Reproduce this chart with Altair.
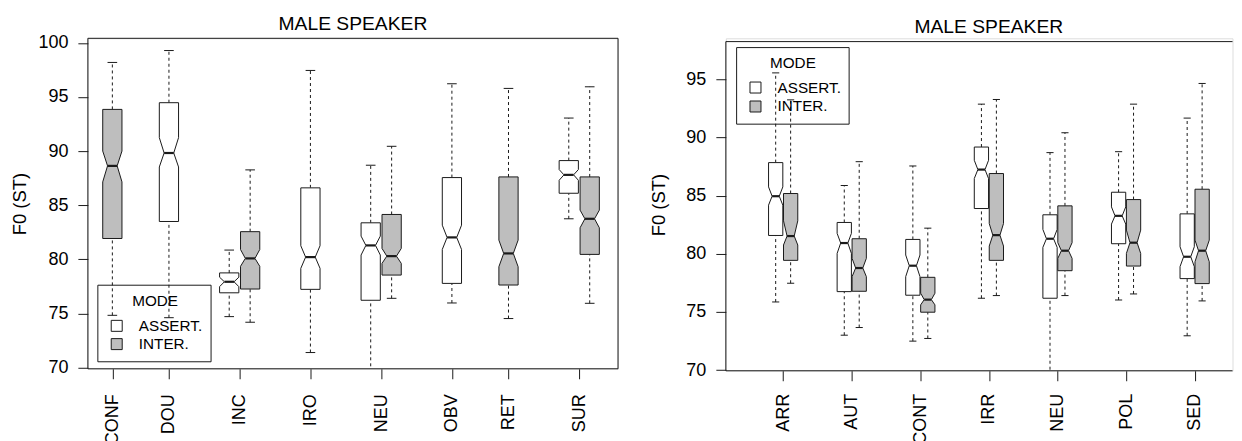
import json
import altair as alt
import pandas as pd

FONT = "Liberation Sans"
INK = "#1a1a1a"

MODES = ["ASSERT.", "INTER."]
FILLS = ["white", "#BEBEBE"]
TITLE = "MALE SPEAKER"
Y_TITLE = "F0 (ST)"

# ---------------- left panel data ----------------
LEFT_CATS = ["CONF", "DOU", "INC", "IRO", "NEU", "OBV", "RET", "SUR"]
LEFT_BOX_CAT = ["CONF", "DOU", "INC", "INC", "IRO", "NEU", "NEU", "OBV", "RET", "SUR", "SUR"]
LEFT_BOX_MODE = ["INTER.", "ASSERT.", "ASSERT.", "INTER.", "ASSERT.", "ASSERT.", "INTER.",
                 "ASSERT.", "INTER.", "ASSERT.", "INTER."]
LEFT_LOW = [74.82, 74.60, 74.70, 74.18, 71.38, 69.00, 76.39, 75.96, 74.52, 83.74, 75.93]
LEFT_Q1 = [81.92, 83.49, 76.90, 77.25, 77.22, 76.21, 78.54, 77.77, 77.62, 86.10, 80.45]
LEFT_NOTCH_LO = [87.15, 88.53, 77.47, 79.35, 79.16, 80.39, 79.62, 80.91, 79.31, 87.30, 82.91]
LEFT_MED = [88.63, 89.82, 77.92, 80.08, 80.20, 81.28, 80.29, 82.02, 80.54, 87.80, 83.74]
LEFT_NOTCH_HI = [90.00, 91.24, 78.34, 80.90, 81.25, 82.14, 81.00, 83.15, 81.77, 88.29, 84.54]
LEFT_Q3 = [93.85, 94.47, 78.74, 82.55, 86.60, 83.37, 84.14, 87.55, 87.61, 89.12, 87.61]
LEFT_HIGH = [98.19, 99.29, 80.85, 88.26, 97.45, 88.69, 90.44, 96.22, 95.79, 93.05, 95.94]
LEFT_YTICKS = [70, 75, 80, 85, 90, 95, 100]

# ---------------- right panel data ----------------
RIGHT_CATS = ["ARR", "AUT", "CONT", "IRR", "NEU", "POL", "SED"]
RIGHT_BOX_CAT = ["ARR", "ARR", "AUT", "AUT", "CONT", "CONT", "IRR", "IRR",
                 "NEU", "NEU", "POL", "POL", "SED", "SED"]
RIGHT_BOX_MODE = ["ASSERT.", "INTER."] * 7
RIGHT_LOW = [75.86, 77.47, 73.00, 73.66, 72.49, 72.72, 76.18, 76.41, 69.00, 76.41, 76.03, 76.55, 72.95, 75.95]
RIGHT_Q1 = [81.58, 79.44, 76.75, 76.78, 76.44, 74.98, 83.90, 79.44, 76.18, 78.55, 80.87, 78.95, 77.87, 77.44]
RIGHT_NOTCH_LO = [84.19, 80.76, 80.04, 78.04, 78.04, 75.61, 86.48, 80.67, 80.56, 79.61, 82.56, 80.04, 78.90, 79.32]
RIGHT_MED = [84.96, 81.53, 80.93, 78.78, 78.98, 76.06, 87.25, 81.61, 81.30, 80.27, 83.27, 80.96, 79.75, 80.27]
RIGHT_NOTCH_HI = [85.76, 82.84, 81.76, 79.61, 79.90, 76.61, 88.05, 82.61, 82.10, 80.96, 84.04, 82.04, 80.61, 81.18]
RIGHT_Q3 = [87.85, 85.19, 82.70, 81.30, 81.24, 77.98, 89.19, 86.91, 83.36, 84.13, 85.30, 84.67, 83.44, 85.56]
RIGHT_HIGH = [95.57, 93.25, 85.88, 87.93, 87.56, 82.21, 92.88, 93.28, 88.71, 90.42, 88.79, 92.88, 91.68, 94.66]
RIGHT_YTICKS = [70, 75, 80, 85, 90, 95]

# ---------------- layout (axis positions of the category groups) ----------------
LEFT_AT = [1, 1.8, 2.8, 3.8, 4.8, 5.8, 6.6, 7.6]
RIGHT_AT = [1, 2, 3, 4, 5, 6, 7]


def panel(cats, box_cat, box_mode, lo, q1, nlo, med, nhi, q3, hi, at, off, hw,
          xdom, ydom, yticks, width, height, title_offset, title_dx, ytitle_pad,
          xlab_pad, border_top, border_right, leg):
    pos = []
    for c, m in zip(box_cat, box_mode):
        i = cats.index(c)
        if box_cat.count(c) == 1:
            pos.append(at[i])
        else:
            pos.append(at[i] + (-off if m == MODES[0] else off))
    boxes = pd.DataFrame({
        "id": list(range(len(pos))), "mode": box_mode, "pos": pos,
        "lo": lo, "q1": q1, "nlo": nlo, "med": med, "nhi": nhi, "q3": q3, "hi": hi,
    })
    boxes["cl"] = boxes["pos"] - hw / 2
    boxes["cr"] = boxes["pos"] + hw / 2

    rows = []
    for _, b in boxes.iterrows():
        for yk, f in (("q1", 1.0), ("nlo", 1.0), ("med", 0.5), ("nhi", 1.0), ("q3", 1.0)):
            rows.append({"id": b["id"], "mode": b["mode"], "y": b[yk],
                         "xl": b["pos"] - hw * f, "xr": b["pos"] + hw * f})
    poly = pd.DataFrame(rows)

    xs = alt.Scale(domain=xdom, nice=False, zero=False)
    ys = alt.Scale(domain=ydom, nice=False, zero=False)
    label_expr = f"{json.dumps(cats)}[indexof({json.dumps(at)}, datum.value)]"
    xaxis = alt.Axis(values=at, labelExpr=label_expr, labelAngle=270, labelFont=FONT,
                     labelFontSize=18, labelColor="black", tickSize=10, tickColor=INK,
                     tickWidth=1, labelPadding=xlab_pad, domain=False, grid=False,
                     title=None, labelOverlap=False, labelFlush=False, labelBound=False)
    yaxis = alt.Axis(values=yticks, labelFont=FONT, labelFontSize=18, labelColor="black",
                     tickSize=10, tickColor=INK, tickWidth=1, labelPadding=10,
                     domain=False, grid=False, title=Y_TITLE, titleFont=FONT,
                     titleFontSize=18.5, titleFontWeight="normal", titleColor="black",
                     titlePadding=ytitle_pad, labelOverlap=False, labelFlush=False)

    def X(f):
        return alt.X(f"{f}:Q", scale=xs, axis=xaxis)

    def Y(f):
        return alt.Y(f"{f}:Q", scale=ys, axis=yaxis)

    base = alt.Chart(boxes)
    whisk_lo = base.mark_rule(strokeDash=[3, 3], color=INK, strokeWidth=1, clip=True).encode(
        x=X("pos"), y=Y("lo"), y2="q1:Q")
    whisk_hi = base.mark_rule(strokeDash=[3, 3], color=INK, strokeWidth=1, clip=True).encode(
        x=X("pos"), y=Y("q3"), y2="hi:Q")
    cap_lo = base.mark_rule(color=INK, strokeWidth=1, clip=True).encode(
        x=X("cl"), x2="cr:Q", y=Y("lo"))
    cap_hi = base.mark_rule(color=INK, strokeWidth=1, clip=True).encode(
        x=X("cl"), x2="cr:Q", y=Y("hi"))
    box = alt.Chart(poly).mark_area(orient="horizontal", stroke=INK, strokeWidth=1,
                                    opacity=1).encode(
        y=Y("y"), x=X("xl"), x2="xr:Q", detail="id:N",
        fill=alt.Fill("mode:N", scale=alt.Scale(domain=MODES, range=FILLS), legend=None))
    medb = boxes.copy()
    medb["ml"] = medb["pos"] - hw / 2
    medb["mr"] = medb["pos"] + hw / 2
    median = alt.Chart(medb).mark_rule(color=INK, strokeWidth=2.2).encode(
        x=X("ml"), x2="mr:Q", y=Y("med"))

    layers = [whisk_lo, whisk_hi, cap_lo, cap_hi, box, median]

    # frame
    d = pd.DataFrame({"k": [0]})
    layers.append(alt.Chart(d).mark_rule(color=INK, strokeWidth=1).encode(
        x=alt.value(0), x2=alt.value(width), y=alt.value(height)))
    layers.append(alt.Chart(d).mark_rule(color=INK, strokeWidth=1).encode(
        x=alt.value(0), y=alt.value(border_top), y2=alt.value(height)))
    layers.append(alt.Chart(d).mark_rule(color=INK, strokeWidth=1).encode(
        x=alt.value(0), x2=alt.value(width), y=alt.value(border_top)))
    if border_right:
        layers.append(alt.Chart(d).mark_rule(color=INK, strokeWidth=1).encode(
            x=alt.value(width), y=alt.value(border_top), y2=alt.value(height)))

    # legend box (transparent, as in the source)
    lx0, lx1, ly0, ly1, tx, ty, r1, r2, sx, txt_x = leg
    layers.append(alt.Chart(d).mark_rect(fill="transparent", stroke=INK, strokeWidth=1).encode(
        x=alt.value(lx0), x2=alt.value(lx1), y=alt.value(ly0), y2=alt.value(ly1)))
    layers.append(alt.Chart(d).mark_text(font=FONT, fontSize=15.3, color="black",
                                         align="center", baseline="middle").encode(
        x=alt.value(tx), y=alt.value(ty), text=alt.value("MODE")))
    for ry, mname, fcol in ((r1, MODES[0], FILLS[0]), (r2, MODES[1], FILLS[1])):
        layers.append(alt.Chart(d).mark_rect(fill=fcol, stroke=INK, strokeWidth=1).encode(
            x=alt.value(sx - 5.5), x2=alt.value(sx + 5.5),
            y=alt.value(ry - 5.5), y2=alt.value(ry + 5.5)))
        layers.append(alt.Chart(d).mark_text(font=FONT, fontSize=15.3, color="black",
                                             align="left", baseline="middle").encode(
            x=alt.value(txt_x), y=alt.value(ry), text=alt.value(mname)))

    return alt.layer(*layers).properties(
        width=width, height=height,
        title=alt.TitleParams(TITLE, font=FONT, fontSize=19.3, fontWeight="normal",
                              color="black", anchor="middle", offset=title_offset,
                              dx=title_dx, frame="group"),
    )


left = panel(LEFT_CATS, LEFT_BOX_CAT, LEFT_BOX_MODE, LEFT_LOW, LEFT_Q1, LEFT_NOTCH_LO,
             LEFT_MED, LEFT_NOTCH_HI, LEFT_Q3, LEFT_HIGH, LEFT_AT,
             off=0.148, hw=0.136, xdom=[0.654, 8.148], ydom=[69.88, 100.42],
             yticks=LEFT_YTICKS, width=531, height=331, title_offset=0, title_dx=0,
             ytitle_pad=8, xlab_pad=15, border_top=0, border_right=True,
             leg=(10, 123.4, 247.3, 324, 67.4, 262.8, 288, 306.3, 28.9, 51))

right = panel(RIGHT_CATS, RIGHT_BOX_CAT, RIGHT_BOX_MODE, RIGHT_LOW, RIGHT_Q1, RIGHT_NOTCH_LO,
              RIGHT_MED, RIGHT_NOTCH_HI, RIGHT_Q3, RIGHT_HIGH, RIGHT_AT,
              off=0.109, hw=0.104, xdom=[0.164, 7.552], ydom=[69.94, 98.545],
              yticks=RIGHT_YTICKS, width=507.5, height=333, title_offset=1.4, title_dx=9.7,
              ytitle_pad=17, xlab_pad=12.5, border_top=3.3, border_right=False,
              leg=(10.8, 123.5, 9.3, 86, 67.2, 25.1, 49.3, 68.3, 29.7, 51.8))

chart = alt.hconcat(left, right, spacing=108, bounds="flush").properties(
    padding={"left": 2, "top": 5, "right": 0, "bottom": 0}
).configure_view(stroke=None).configure(background="white")

chart.save("out.html", embed_options={"renderer": "svg", "actions": False})
